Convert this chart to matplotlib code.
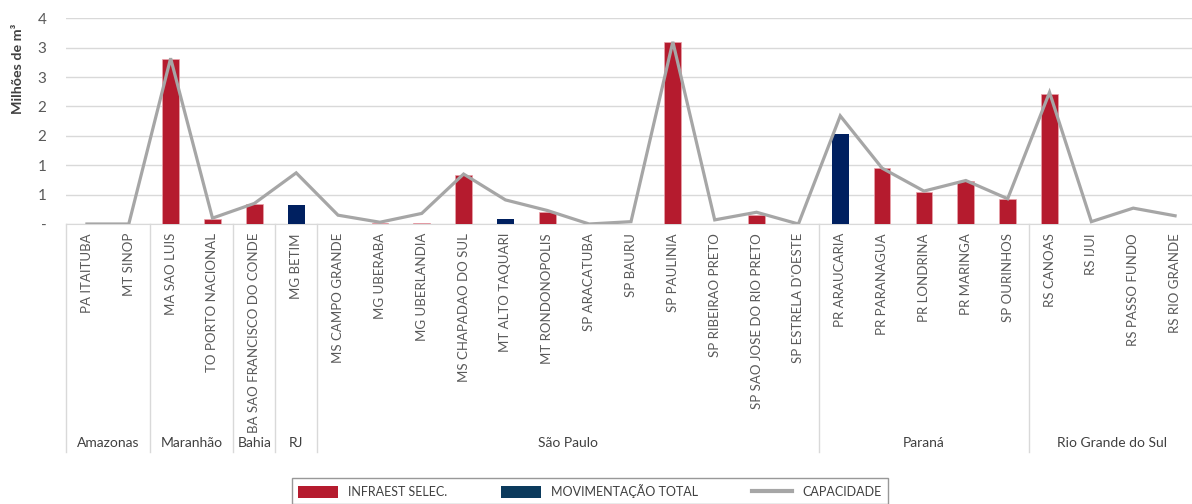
import numpy as np
import matplotlib.pyplot as plt
from matplotlib.patches import Patch
from matplotlib.lines import Line2D
import matplotlib.transforms as mtransforms

plt.rcParams['font.family'] = ['Lato', 'DejaVu Sans']

terminais = ['PA ITAITUBA', 'MT SINOP', 'MA SAO LUIS', 'TO PORTO NACIONAL',
             'BA SAO FRANCISCO DO CONDE', 'MG BETIM', 'MS CAMPO GRANDE', 'MG UBERABA',
             'MG UBERLANDIA', 'MS CHAPADAO DO SUL', 'MT ALTO TAQUARI', 'MT RONDONOPOLIS',
             'SP ARACATUBA', 'SP BAURU', 'SP PAULINIA', 'SP RIBEIRAO PRETO',
             'SP SAO JOSE DO RIO PRETO', "SP ESTRELA D'OESTE", 'PR ARAUCARIA',
             'PR PARANAGUA', 'PR LONDRINA', 'PR MARINGA', 'SP OURINHOS', 'RS CANOAS',
             'RS IJUI', 'RS PASSO FUNDO', 'RS RIO GRANDE']

grupos = ['Amazonas', 'Maranhão', 'Bahia', 'RJ', 'São Paulo', 'Paraná', 'Rio Grande do Sul']
grupo_tam = [2, 2, 1, 1, 12, 5, 4]

infraest = [0, 0, 2.80, 0.085, 0.34, 0, 0, 0.02, 0.01, 0.83, 0, 0.20, 0, 0,
            3.09, 0, 0.15, 0, 0, 0.96, 0.55, 0.73, 0.42, 2.22, 0, 0, 0]
movimentacao = [0, 0, 0, 0, 0, 0.33, 0, 0, 0, 0, 0.085, 0, 0, 0,
                0, 0, 0, 0, 1.525, 0, 0, 0, 0, 0, 0, 0, 0]
capacidade = [0, 0, 2.82, 0.10, 0.35, 0.87, 0.15, 0.03, 0.18, 0.85, 0.41, 0.23, 0, 0.04,
              3.10, 0.07, 0.20, 0, 1.84, 0.95, 0.56, 0.74, 0.43, 2.24, 0.04, 0.27, 0.14]

y_ticks = [0, 0.5, 1, 1.5, 2, 2.5, 3, 3.5]
y_labels = ['-', '1', '1', '2', '2', '3', '3', '4']

RED = '#B51B2E'
NAVY = '#002060'
GRAY = '#A6A6A6'
TXT = '#595959'

W, H = 1192, 504
fig = plt.figure(figsize=(W / 100, H / 100), dpi=100)
ax = fig.add_axes([66 / W, (H - 224) / H, 1130 / W, (224 - 18.3) / H])

x = np.arange(len(terminais))
ax.bar(x, infraest, width=0.4, color=RED, edgecolor='#E9A3AB', linewidth=0.5, zorder=3)
ax.bar(x, movimentacao, width=0.4, color=NAVY, zorder=3)
ax.plot(x, capacidade, color=GRAY, linewidth=2.3, zorder=4, solid_joinstyle='miter')

ax.set_xlim(-0.5, len(terminais) - 0.5)
ax.set_ylim(0, 3.5)
ax.set_yticks(y_ticks)
ax.set_yticklabels(y_labels)
ax.yaxis.grid(True, color='#D9D9D9', linewidth=1)
ax.set_axisbelow(True)
for s in ['left', 'right', 'top']:
    ax.spines[s].set_visible(False)
ax.spines['bottom'].set_color('#D9D9D9')
ax.tick_params(axis='y', length=0, pad=14, labelsize=11, labelcolor=TXT)
ax.tick_params(axis='x', length=0, pad=6.5, labelsize=9.5, labelcolor=TXT)
ax.set_xticks(x)
ax.set_xticklabels(terminais, rotation=90, va='top')

# group separators and labels
trans = mtransforms.blended_transform_factory(ax.transData, ax.transAxes)
y_bot = -(452 - 224) / (224 - 18.3)
y_grp = -(443 - 224) / (224 - 18.3)
bordas = np.concatenate([[0], np.cumsum(grupo_tam)]) - 0.5
for b in bordas[:-1]:
    ax.plot([b, b], [0, y_bot], transform=trans, color='#D9D9D9', linewidth=1, clip_on=False)
for g, a, b in zip(grupos, bordas[:-1], bordas[1:]):
    ax.text((a + b) / 2, y_grp, g, transform=trans, ha='center', va='center',
            fontsize=10, color='#404040')

fig.text(18 / W, (H - 69) / H, 'Milhões de m³', rotation=90, ha='center', va='center',
         fontsize=10.3, fontweight='bold', color='#404040')

handles = [Patch(facecolor=RED, edgecolor='none'),
           Patch(facecolor='#0B3A5C', edgecolor='none'),
           Line2D([0], [0], color=GRAY, linewidth=3)]
leg = fig.legend(handles, ['INFRAEST SELEC.', 'MOVIMENTAÇÃO TOTAL', 'CAPACIDADE'],
                 loc='upper left', bbox_to_anchor=(292 / W, (H - 478) / H), ncol=3,
                 frameon=True, fancybox=False, edgecolor='#7F7F7F', fontsize=9,
                 handlelength=3.2, handleheight=1.0, columnspacing=4.3, borderpad=0.5,
                 borderaxespad=0)
leg.get_frame().set_linewidth(1)
for t in leg.get_texts():
    t.set_color('#404040')

fig.savefig('out.png', dpi=100)
